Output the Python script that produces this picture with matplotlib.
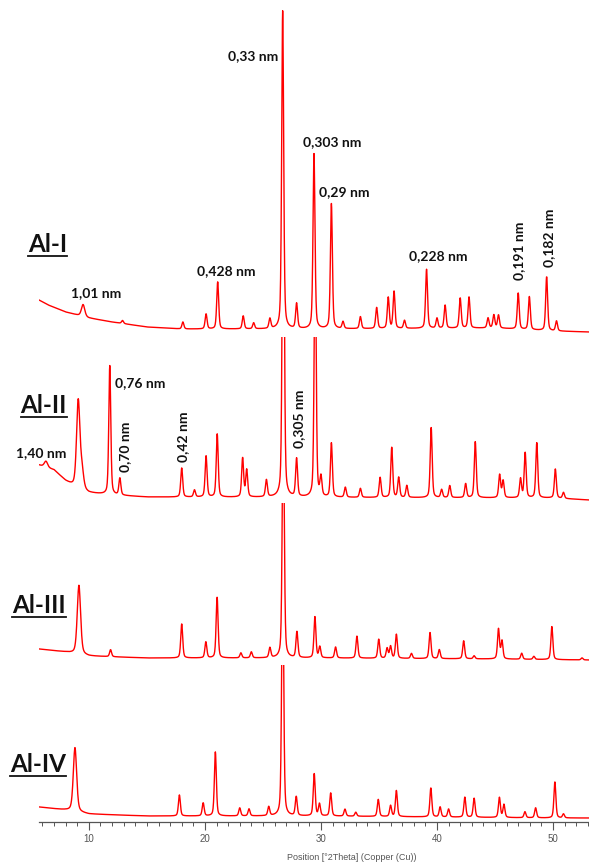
import matplotlib.pyplot as plt
import numpy as np
from matplotlib.lines import Line2D
from matplotlib.ticker import MultipleLocator

# position axis, degrees 2theta
two_theta = np.arange(5.7, 53.12, 0.02)

# ---- Al-I ----
al1_pos = [9.5, 12.9, 18.1, 20.1, 21.1, 23.3, 24.2, 25.6, 26.7, 27.9, 29.4, 30.9,
           31.9, 33.4, 34.8, 35.8, 36.3, 37.2, 39.1, 40.0, 40.7, 42.0, 42.76,
           44.4, 44.9, 45.3, 47.0, 47.96, 49.45, 50.3]
al1_amp = [12, 3, 7, 15, 47, 13, 6, 10, 318, 25, 175, 125,
           7, 12, 21, 31, 37, 8, 59, 10, 23, 30, 31,
           10, 13, 13, 36, 33, 54, 10]
al1_bg_x = [5.7, 6.5, 8, 10, 12, 15, 18, 30, 45, 50, 53.1]
al1_bg_y = [35, 30, 23, 17, 13, 8, 6, 6, 7, 4, 3]

# ---- Al-II ----
al2_pos = [6.3, 9.08, 9.4, 11.8, 12.67, 18.0, 19.1, 20.1, 21.06, 23.25, 23.6, 25.3,
           26.75, 27.9, 29.5, 30.0, 30.9, 32.1, 33.4, 35.1, 36.1, 36.7, 37.4,
           39.5, 40.4, 41.1, 42.47, 43.3, 45.4, 45.7, 47.2, 47.6, 48.6, 50.2, 50.9]
al2_amp = [6, 88, 18, 129, 17, 29, 7, 41, 63, 39, 27, 17,
           400, 38, 260, 19, 54, 10, 9, 20, 50, 20, 12,
           70, 8, 12, 14, 56, 23, 17, 19, 45, 55, 29, 6]
al2_bg_x = [5.7, 7, 8, 9, 10, 12, 15, 50, 53.1]
al2_bg_y = [38, 33, 22, 14, 10, 8, 6, 5, 3]

# ---- Al-III ----
al3_pos = [9.14, 11.87, 18.0, 20.08, 21.05, 23.1, 24.0, 25.6, 26.75, 27.93, 29.48,
           29.9, 31.26, 33.1, 34.98, 35.7, 36.0, 36.5, 37.8, 39.4, 40.2, 42.3,
           43.2, 45.3, 45.6, 47.3, 48.35, 49.9, 52.5]
al3_amp = [69, 7, 34, 16, 61, 5, 6, 10, 260, 26, 41,
           11, 11, 22, 19, 10, 12, 24, 5, 26, 9, 18,
           3, 30, 18, 6, 3, 33, 2]
al3_bg_x = [5.7, 8, 10, 15, 30, 45, 53.1]
al3_bg_y = [16, 13, 9, 7, 7, 6, 5]

# ---- Al-IV ----
al4_pos = [8.8, 17.8, 19.85, 20.9, 23.0, 23.8, 25.5, 26.7, 27.87, 29.42, 29.87,
           30.84, 32.07, 33.0, 34.94, 36.0, 36.5, 39.47, 40.27, 41.0, 42.4, 43.2,
           45.38, 45.77, 47.58, 48.5, 50.16, 50.9]
al4_amp = [64, 21, 13, 64, 8, 7, 9, 260, 19, 42, 12,
           23, 7, 4, 17, 11, 26, 29, 10, 8, 20, 19,
           20, 13, 6, 10, 36, 4]
al4_bg_x = [5.7, 8, 10, 15, 30, 50, 53.1]
al4_bg_y = [15, 12, 8, 6, 6, 4, 4]

names = ['Al-I', 'Al-II', 'Al-III', 'Al-IV']

# panel edges in figure pixels (top, bottom)
panels = [(8, 335), (337, 503), (503, 665), (665, 822)]
name_pos = [(67, 252), (67, 413), (66, 613), (66, 772)]   # right edge, baseline


def pattern(pos, amp, bg_x, bg_y):
    y = np.interp(two_theta, bg_x, bg_y)
    for p, a in zip(pos, amp):
        f = 0.34 if p < 10 else 0.2
        d = (two_theta - p) / f
        y = y + a * (0.6 * np.exp(-4 * np.log(2) * d**2) + 0.4 / (1 + 4 * d**2))
    return y


W, H = 589, 865
fig = plt.figure(figsize=(W / 100, H / 100), dpi=100)
left = 39 / W

data = [(al1_pos, al1_amp, al1_bg_x, al1_bg_y),
        (al2_pos, al2_amp, al2_bg_x, al2_bg_y),
        (al3_pos, al3_amp, al3_bg_x, al3_bg_y),
        (al4_pos, al4_amp, al4_bg_x, al4_bg_y)]

axes = []
for (top, bot), d in zip(panels, data):
    ax = fig.add_axes([left, 1 - bot / H, 1 - left, (bot - top) / H])
    ax.plot(two_theta, pattern(*d), color='#ff0000', lw=1.0)
    ax.set_xlim(5.7, 53.1)
    ax.set_ylim(0, bot - top)
    ax.patch.set_alpha(0)
    for s in ax.spines.values():
        s.set_visible(False)
    ax.set_yticks([])
    ax.set_xticks([])
    axes.append(ax)

# bottom axis
ax4 = axes[-1]
ax4.spines['bottom'].set_visible(True)
ax4.spines['bottom'].set_color('#555555')
ax4.spines['bottom'].set_linewidth(0.9)
ax4.xaxis.set_major_locator(MultipleLocator(10))
ax4.xaxis.set_minor_locator(MultipleLocator(1))
ax4.tick_params(axis='x', which='major', length=6, width=0.8, color='#555555',
                labelsize=7, labelcolor='#555555', pad=3)
ax4.tick_params(axis='x', which='minor', length=3, width=0.7, color='#555555')
for lab in ax4.get_xticklabels():
    lab.set_fontfamily('Liberation Sans')
fig.text(352 / W, 1 - 858 / H, 'Position [°2Theta] (Copper (Cu))', ha='center',
         va='center', fontsize=6.5, color='#555555', family='Liberation Sans')

lab_kw = dict(fontsize=10, fontweight='bold', family='Lato', color='#111111')

# Al-I peak labels
a = axes[0]
a.text(26.3, 279, '0,33 nm', ha='right', va='center', **lab_kw)
a.text(10.6, 42, '1,01 nm', ha='center', va='center', **lab_kw)
a.text(21.8, 64, '0,428 nm', ha='center', va='center', **lab_kw)
a.text(30.95, 193, '0,303 nm', ha='center', va='center', **lab_kw)
a.text(32.0, 143, '0,29 nm', ha='center', va='center', **lab_kw)
a.text(40.13, 79, '0,228 nm', ha='center', va='center', **lab_kw)
a.text(47.07, 55, '0,191 nm', ha='center', va='bottom', rotation=90, **lab_kw)
a.text(49.66, 68, '0,182 nm', ha='center', va='bottom', rotation=90, **lab_kw)

# Al-II peak labels
a = axes[1]
a.text(5.86, 50, '1,40 nm', ha='center', va='center', **lab_kw)
a.text(12.24, 120, '0,76 nm', ha='left', va='center', **lab_kw)
a.text(13.1, 31, '0,70 nm', ha='center', va='bottom', rotation=90, **lab_kw)
a.text(18.1, 41, '0,42 nm', ha='center', va='bottom', rotation=90, **lab_kw)
a.text(28.1, 55, '0,305 nm', ha='center', va='bottom', rotation=90, **lab_kw)

# sample names, underlined
fig.canvas.draw()
renderer = fig.canvas.get_renderer()
for name, (xr, yb) in zip(names, name_pos):
    t = fig.text(xr / W, 1 - yb / H, name, ha='right', va='baseline',
                 fontsize=17.5, fontweight='bold', family='Lato', color='#111111')
    bb = t.get_window_extent(renderer)
    yl = 1 - (yb + 4) / H
    fig.add_artist(Line2D([bb.x0 / W, bb.x1 / W], [yl, yl], transform=fig.transFigure,
                          color='#111111', lw=1.3))

fig.savefig('out.png', dpi=100)
